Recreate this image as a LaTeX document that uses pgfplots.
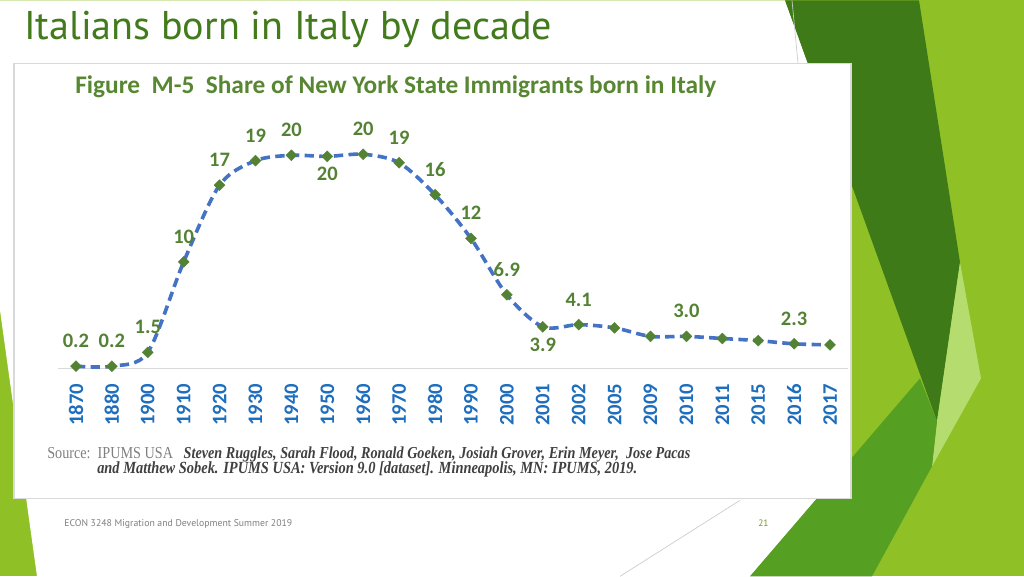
\documentclass[border=0pt]{standalone}
\usepackage{pgfplots}
\pgfplotsset{compat=1.18}
\usepackage{graphicx}
\usepackage{fontspec}
\setmainfont{PT Sans}
\newfontfamily\carl{Carlito}
\newfontfamily\tnr{Liberation Serif}
\newfontfamily\ttl{PT Sans}
\definecolor{lime}{RGB}{143,193,38}
\definecolor{darkg}{RGB}{62,122,24}
\definecolor{medg}{RGB}{85,160,35}
\definecolor{lightl}{RGB}{181,220,110}
\definecolor{titleg}{RGB}{66,122,28}
\definecolor{chtitle}{RGB}{88,135,50}
\definecolor{labg}{RGB}{84,130,53}
\definecolor{tickb}{RGB}{30,110,190}
\definecolor{lineb}{RGB}{68,114,196}
\definecolor{markg}{RGB}{84,130,53}
\definecolor{srcg}{RGB}{64,64,64}
\pgfplotstableread{
x y
0 0.2
1 0.2
2 1.5
3 10.0
4 17.2
5 19.5
6 20.0
7 19.9
8 20.1
9 19.3
10 16.3
11 12.2
12 6.9
13 3.9
14 4.1
15 3.8
16 3.0
17 3.0
18 2.8
19 2.6
20 2.3
21 2.2
}\share
\pgfplotstableread{
x y lab
0 0.2 0.2
1 0.2 0.2
2 1.5 1.5
3 10.0 10
4 17.2 17
5 19.5 19
6 20.0 20
8 20.1 20
9 19.3 19
10 16.3 16
11 12.2 12
12 6.9 6.9
14 4.1 4.1
17 3.0 3.0
20 2.3 2.3
}\lababove
\pgfplotstableread{
x y lab
7 19.9 20
13 3.9 3.9
}\labbelow
\begin{document}
\begin{tikzpicture}[x=0.75pt,y=0.75pt]
% slide background
\fill[lime] (0,0) rectangle (1024,576);
\fill[white] (0,266) -- (0,576) -- (785,576) -- (808,513) -- (817,78) -- (750,0) -- (37,0) -- cycle;
\fill[darkg] (785,576) -- (919,576) -- (960,314) -- (937,155) -- cycle;
\fill[lightl] (960,314) -- (981,198) -- (932,110) -- (937,155) -- cycle;
\fill[medg] (920,198) -- (937,155) -- (932,110) -- (872,0) -- (750,0) -- cycle;
\draw[gray!40, line width=0.5pt] (792,576) -- (798,513);
\draw[gray!40, line width=0.5pt] (620,0) -- (740,76);
% chart box
\filldraw[fill=white, draw=gray!30, line width=1.2pt] (14,78) rectangle (851,513);
% slide title
\node[anchor=base west, inner sep=0pt, text=titleg] at (24,537)
  {\resizebox{396pt}{!}{\ttl Italians born in Italy by decade}};
% chart title
\node[anchor=base west, inner sep=0pt, text=chtitle] at (75,483)
  {\resizebox{480.75pt}{!}{\carl\bfseries Figure\ \ M-5\ \ Share of New York State Immigrants born in Italy}};
% source
\node[anchor=base west, inner sep=0pt] at (47,118)
  {\scalebox{1}[1.18]{\resizebox{482.25pt}{!}{\tnr{\color{gray}Source:\ \ IPUMS USA}\ \ \ {\color{srcg}\bfseries\itshape Steven Ruggles, Sarah Flood, Ronald Goeken, Josiah Grover, Erin Meyer,\ \ Jose Pacas}}}};
\node[anchor=base west, inner sep=0pt, text=srcg] at (97,103)
  {\scalebox{1}[1.18]{\resizebox{405pt}{!}{\tnr\bfseries\itshape and Matthew Sobek. IPUMS USA: Version 9.0 [dataset]. Minneapolis, MN: IPUMS, 2019.}}};
% footer
\node[anchor=base west, inner sep=0pt, text=gray] at (64,50)
  {\resizebox{171pt}{!}{\ttl ECON 3248 Migration and Development Summer 2019}};
\node[anchor=base west, inner sep=0pt, text=lime!80!black] at (758,50)
  {\ttl\fontsize{7}{8}\selectfont 21};
\begin{axis}[
  at={(43.5pt,156pt)}, anchor=south west,
  scale only axis, width=592.5pt, height=159.75pt,
  xmin=-0.5, xmax=21.5, ymin=0, ymax=20,
  enlargelimits=false,
  axis x line*=bottom, axis y line=none,
  x axis line style={draw=gray!30, line width=1.1pt, -},
  xtick={0,...,21},
  xticklabels={1870,1880,1900,1910,1920,1930,1940,1950,1960,1970,1980,1990,2000,2001,2002,2005,2009,2010,2011,2015,2016,2017},
  major tick length=0pt,
  xticklabel style={rotate=90, anchor=east, inner sep=0pt, font=\carl\bfseries\fontsize{15.5}{16}\selectfont, text=tickb},
  xticklabel shift=11.25pt,
  ytick=\empty,
  clip=false,
]
\addplot[lineb, line width=2.7pt, dash pattern=on 7pt off 4pt, smooth,
  mark=square*, mark size=2.9pt,
  mark options={solid, fill=markg, draw=markg, rotate=45, line width=0.3pt}]
  table[x=x, y=y] {\share};
\addplot[draw=none, mark=none, nodes near coords, point meta=explicit symbolic,
  nodes near coords style={anchor=base, inner sep=0pt, yshift=13.9pt,
    font=\carl\bfseries\fontsize{15.4}{16}\selectfont, text=labg}]
  table[x=x, y=y, meta=lab] {\lababove};
\addplot[draw=none, mark=none, nodes near coords, point meta=explicit symbolic,
  nodes near coords style={anchor=base, inner sep=0pt, yshift=-18.4pt,
    font=\carl\bfseries\fontsize{15.4}{16}\selectfont, text=labg}]
  table[x=x, y=y, meta=lab] {\labbelow};
\end{axis}
\end{tikzpicture}
\end{document}
